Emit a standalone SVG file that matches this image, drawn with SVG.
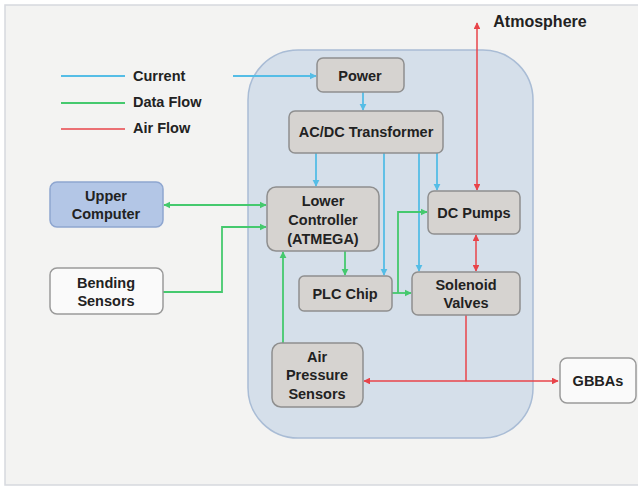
<svg xmlns="http://www.w3.org/2000/svg" width="638" height="487" viewBox="0 0 638 487">
<defs>
<style>
text{font-family:"Liberation Sans",Arial,sans-serif;font-weight:bold;font-size:14.5px;fill:#222;text-anchor:middle;dominant-baseline:central}
.box{fill:#d6d3d0;stroke:#8f8f8f;stroke-width:1.5}
.wbox{fill:#fafafa;stroke:#9a9a9a;stroke-width:1.5}
.cur{stroke:#55bde6;stroke-width:1.8;fill:none}
.dat{stroke:#45c96e;stroke-width:1.8;fill:none}
.air{stroke:#e8444a;stroke-width:1.5;fill:none}
.leg{text-anchor:start}
</style>
<marker id="ab" viewBox="0 0 10 10" refX="9" refY="5" markerWidth="4" markerHeight="4" orient="auto-start-reverse"><path d="M0,0L10,5L0,10z" fill="#55bde6"/></marker>
<marker id="ag" viewBox="0 0 10 10" refX="9" refY="5" markerWidth="4" markerHeight="4" orient="auto-start-reverse"><path d="M0,0L10,5L0,10z" fill="#45c96e"/></marker>
<marker id="ar" viewBox="0 0 10 10" refX="9" refY="5" markerWidth="4.5" markerHeight="4.5" orient="auto-start-reverse"><path d="M0,0L10,5L0,10z" fill="#e8444a"/></marker>
</defs>
<rect width="638" height="487" fill="#ffffff"/>
<rect x="5" y="5" width="640" height="480" fill="#f3f3f2" stroke="#d6d9de" stroke-width="1.5"/>
<rect id="container" x="248" y="50" width="285" height="388" rx="50" fill="#d5dfea" stroke="#a9bcd5" stroke-width="1.5"/>
<g id="legend">
<line x1="61" y1="76" x2="125" y2="76" class="cur"/>
<line x1="61" y1="103" x2="125" y2="103" class="dat"/>
<line x1="61" y1="129" x2="125" y2="129" class="air"/>
<text x="133" y="76" class="leg">Current</text>
<text x="133" y="102" class="leg">Data Flow</text>
<text x="133" y="128" class="leg">Air Flow</text>
</g>
<g id="connectors">
<path d="M233,76H316" class="cur" marker-end="url(#ab)"/>
<path d="M363,92V110" class="cur" marker-end="url(#ab)"/>
<path d="M316,153V186" class="cur" marker-end="url(#ab)"/>
<path d="M384,153V275" class="cur" marker-end="url(#ab)"/>
<path d="M419,153V271" class="cur" marker-end="url(#ab)"/>
<path d="M437,153V190" class="cur" marker-end="url(#ab)"/>
<path d="M164,205H266" class="dat" marker-start="url(#ag)" marker-end="url(#ag)"/>
<path d="M163,292H222V227H266" class="dat" marker-end="url(#ag)"/>
<path d="M345,251V275" class="dat" marker-end="url(#ag)"/>
<path d="M392,293H411" class="dat" marker-end="url(#ag)"/>
<path d="M398,293V212H427" class="dat" marker-end="url(#ag)"/>
<path d="M283,343V252" class="dat" marker-end="url(#ag)"/>
<path d="M477,190V23" class="air" marker-start="url(#ar)" marker-end="url(#ar)"/>
<path d="M476,235V271" class="air" marker-start="url(#ar)" marker-end="url(#ar)"/>
<path d="M466,315V381" class="air"/>
<path d="M364,381H558" class="air" marker-start="url(#ar)" marker-end="url(#ar)"/>
</g>
<g id="atmosphere"><text x="540" y="21" style="font-size:16px">Atmosphere</text></g>
<g id="power"><rect x="317" y="58" width="87" height="34" rx="6" class="box"/><text x="360" y="76">Power</text></g>
<g id="acdc"><rect x="289" y="111" width="154" height="42" rx="6" class="box"/><text x="366" y="132">AC/DC Transformer</text></g>
<g id="upper"><rect x="50" y="182" width="113" height="45" rx="7" fill="#b3c6e6" stroke="#8ea6d0" stroke-width="1.5"/><text x="106" y="196">Upper</text><text x="106" y="214">Computer</text></g>
<g id="bending"><rect x="50" y="268" width="113" height="46" rx="7" class="wbox"/><text x="106" y="283">Bending</text><text x="106" y="301">Sensors</text></g>
<g id="lower"><rect x="267" y="187" width="112" height="64" rx="9" class="box"/><text x="323" y="201">Lower</text><text x="323" y="220">Controller</text><text x="323" y="239">(ATMEGA)</text></g>
<g id="pumps"><rect x="428" y="191" width="92" height="43" rx="6" class="box"/><text x="474" y="213">DC Pumps</text></g>
<g id="plc"><rect x="299" y="276" width="93" height="35" rx="5" class="box"/><text x="345" y="294">PLC Chip</text></g>
<g id="valves"><rect x="412" y="272" width="108" height="43" rx="6" class="box"/><text x="466" y="285">Solenoid</text><text x="466" y="303">Valves</text></g>
<g id="aps"><rect x="272" y="343" width="91" height="64" rx="9" class="box"/><text x="317" y="357">Air</text><text x="317" y="375">Pressure</text><text x="317" y="394">Sensors</text></g>
<g id="gbbas"><rect x="560" y="358" width="76" height="45" rx="7" class="wbox"/><text x="598" y="381">GBBAs</text></g>
</svg>
